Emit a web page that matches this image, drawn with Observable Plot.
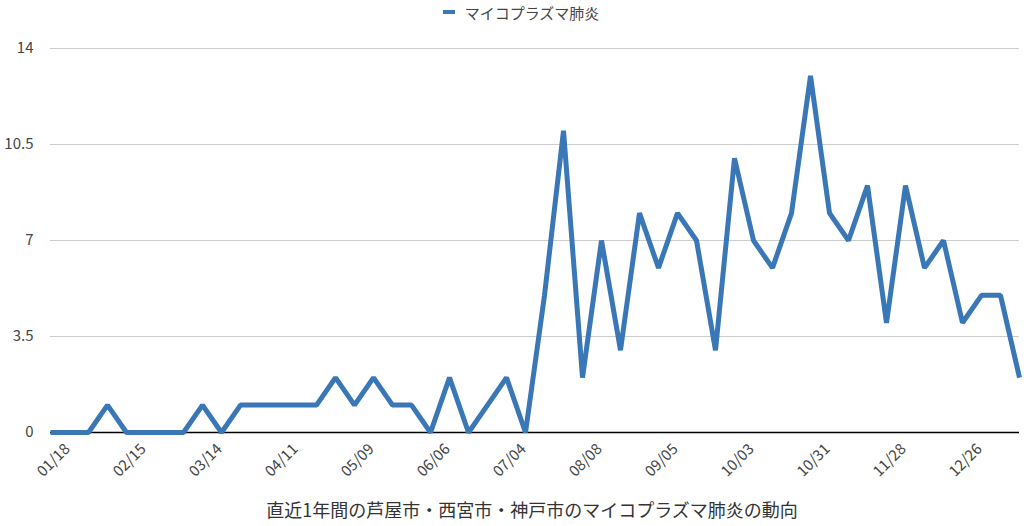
<!DOCTYPE html>
<html><head><meta charset="utf-8">
<script src="https://cdn.jsdelivr.net/npm/d3@7"></script>
<script src="https://cdn.jsdelivr.net/npm/@observablehq/plot@0.6"></script>
<style>
body{margin:0;background:#fff;font-family:"Noto Sans CJK JP","Noto Sans",sans-serif;width:1024px;overflow:hidden;}
#legend{height:24px;display:flex;align-items:center;justify-content:center;font-size:15px;color:#444;padding-left:18px;}
#legend .sw{display:inline-block;width:12px;height:4px;background:#3a77b7;margin-right:10px;}
#title{text-align:center;font-size:18px;color:#333;line-height:30px;padding-left:40px;}
</style></head>
<body>
<div id="legend"><span class="sw"></span><span>マイコプラズマ肺炎</span></div>
<div id="chart"></div>
<div id="title">直近1年間の芦屋市・西宮市・神戸市のマイコプラズマ肺炎の動向</div>
<script>
const weeks = ["01/18","01/25","02/01","02/08","02/15","02/22","02/29","03/07","03/14","03/21","03/28","04/04","04/11","04/18","04/25","05/02","05/09","05/16","05/23","05/30","06/06","06/13","06/20","06/27","07/04","07/11","07/18","07/25","08/08","08/15","08/22","08/29","09/05","09/12","09/19","09/26","10/03","10/10","10/17","10/24","10/31","11/07","11/14","11/21","11/28","12/05","12/12","12/19","12/26","01/02","01/09","01/16"];
const cases = [0,0,0,1,0,0,0,0,1,0,1,1,1,1,1,2,1,2,1,1,0,2,0,1,2,0,5,11,2,7,3,8,6,8,7,3,10,7,6,8,13,8,7,9,4,9,6,7,4,5,5,2];
const xTickLabels = ["01/18","02/15","03/14","04/11","05/09","06/06","07/04","08/08","09/05","10/03","10/31","11/28","12/26"];
const yTicks = [0,3.5,7,10.5,14];
const seriesName = "マイコプラズマ肺炎";

const data = weeks.map((w,i)=>({week:w, value:cases[i], series:seriesName}));
const chart = Plot.plot({
  width:1024, height:470,
  marginTop:24, marginLeft:50, marginRight:5, marginBottom:62,
  style:{fontFamily:'"Noto Sans CJK JP","Noto Sans",sans-serif', fontSize:"15px", color:"#444", background:"#fff"},
  x:{type:"point", domain:weeks, padding:0, label:null},
  y:{domain:[0,14], label:null},
  marks:[
    Plot.gridY(yTicks.filter(d=>d>0), {stroke:"#cccccc", strokeOpacity:1, strokeWidth:1}),
    Plot.ruleY([0], {stroke:"#000", strokeWidth:1.5}),
    Plot.axisY(yTicks, {tickSize:0, tickPadding:17, label:null, tickFormat:d=>String(d), fontSize:15}),
    Plot.axisX(xTickLabels, {tickSize:0, tickRotate:-45, tickPadding:4, label:null, fontSize:15, dx:17, dy:10}),
    Plot.lineY(data, {x:"week", y:"value", stroke:"#3a77b7", strokeWidth:5, strokeLinejoin:"miter", strokeLinecap:"butt"})
  ]
});
document.getElementById("chart").appendChild(chart);
</script>
</body></html>
